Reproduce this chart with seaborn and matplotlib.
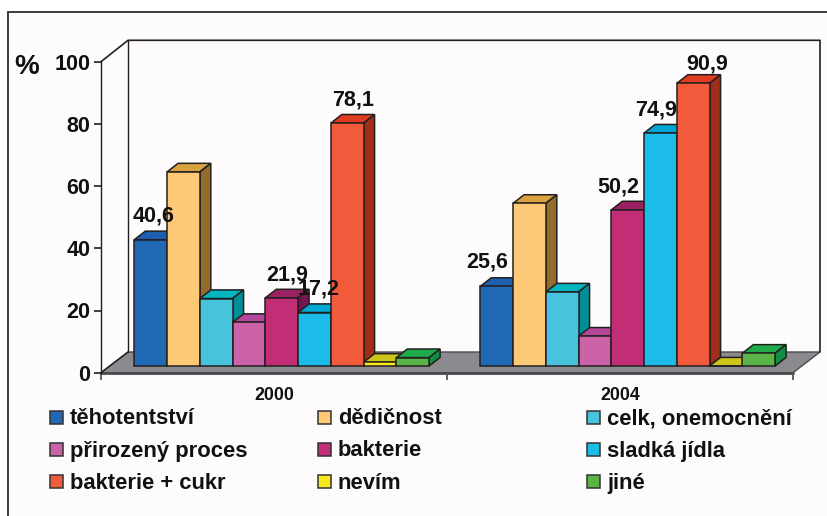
import matplotlib
matplotlib.use('Agg')
import matplotlib.pyplot as plt
from matplotlib.patches import Polygon, Rectangle
import pandas as pd
import seaborn as sns

years = ['2000', '2004']
causes = ['těhotentství', 'dědičnost', 'celk, onemocnění', 'přirozený proces', 'bakterie',
          'sladká jídla', 'bakterie + cukr', 'nevím', 'jiné']
values_2000 = [40.6, 62.4, 21.7, 14.0, 21.9, 17.2, 78.1, 1.2, 2.7]
values_2004 = [25.6, 52.3, 23.8, 9.6, 50.2, 74.9, 90.9, 0.0, 4.1]
front_colors = ['#2069B4', '#FDC976', '#47C3DE', '#CC62A7', '#C22E75', '#1BBCE8', '#F15A3A', '#F7E91E', '#5BB546']
top_colors = ['#1F5FB0', '#D9A23E', '#00B5BE', '#B5479B', '#9B2163', '#00A7D4', '#E03C22', '#CFC51A', '#1FAB4A']
side_colors = ['#1A4F8F', '#946D2C', '#008E96', '#8A3576', '#751650', '#0082A8', '#A02C1A', '#9E9612', '#0E8F44']
# only these bars have a number, with pixel shift of the label
labels_2000 = {'těhotentství': (3, 13), 'bakterie': (5, 12), 'sladká jídla': (4, 13), 'bakterie + cukr': (6, 13)}
labels_2004 = {'těhotentství': (-9, 14), 'bakterie': (-9, 12), 'sladká jídla': (-4, 13), 'bakterie + cukr': (14, 9)}

W, H = 828, 516
DARK = '#231F20'
BG = '#FDFBFB'
sns.set_style('white')
plt.rcParams['font.family'] = ['Liberation Sans', 'DejaVu Sans']
plt.rcParams['font.weight'] = 'bold'


def axes_px(fig, left, top, right, bottom):
    return fig.add_axes([left / W, 1 - bottom / H, (right - left) / W, (bottom - top) / H])


fig = plt.figure(figsize=(W / 100, H / 100), dpi=100, facecolor='white')

# pixel layer for frame, walls, floor and legend
bg = fig.add_axes([0, 0, 1, 1], zorder=0)
bg.set_xlim(0, W)
bg.set_ylim(H, 0)
bg.axis('off')
bg.add_patch(Rectangle((8.5, 11.7), W, H, fc=BG, ec='#3A3A3A', lw=1.4))
bg.add_patch(Polygon([(101, 372.7), (793, 372.7), (820, 352), (128, 352)], fc='#8B8A8E', ec='#4A494C', lw=1))
bg.plot([101, 793], [372.7, 372.7], color='#4A494C', lw=2)
bg.plot([101, 128, 820, 820], [61.7, 40.3, 40.3, 352], color=DARK, lw=1.2)
bg.plot([128, 128], [40.3, 352], color=DARK, lw=1.0)
bg.plot([101, 128], [372.7, 352], color=DARK, lw=1.0)

# front plane holds the axis and ticks
ax = axes_px(fig, 101, 61.7, 793, 372.7)
ax.set_zorder(1)
ax.patch.set_alpha(0)
ax.set_xlim(-0.5, 1.5)
ax.set_ylim(0, 100)
for s in ['top', 'right', 'bottom']:
    ax.spines[s].set_visible(False)
ax.spines['left'].set_color(DARK)
ax.spines['left'].set_linewidth(1.0)
ax.set_yticks(range(0, 101, 20))
ax.tick_params(axis='y', left=True, length=5, width=1.2, color=DARK, pad=2.5, labelsize=15.5, labelcolor='#111111')
ax.set_xticks([-0.5, 0.5, 1.5])
ax.set_xticklabels([])
ax.tick_params(axis='x', bottom=True, length=5, width=1.2, color='#4A494C')
ax.set_xticks([0, 1], minor=True)
ax.set_xticklabels(years, minor=True)
ax.tick_params(axis='x', which='minor', bottom=False, pad=8, labelsize=12.8, labelcolor='#111111')
bg.text(27, 67, '%', fontsize=20, ha='center', va='center', color='#111111')

# bars stand further back on the floor
df = pd.DataFrame({
    'year': [y for y in years for c in causes],
    'cause': causes * 2,
    'value': values_2000 + values_2004,
})
bars = axes_px(fig, 108.7, 55, 800.7, 366)
bars.set_zorder(2)
bars.patch.set_alpha(0)
sns.barplot(data=df, x='year', y='value', hue='cause', hue_order=causes, order=years, palette=front_colors,
            width=0.852, gap=0, saturation=1, legend=False, edgecolor=DARK, linewidth=1.1, ax=bars)
bars.set_xlim(-0.5, 1.5)
bars.set_ylim(0, 100)
bars.axis('off')

dx = 11 / 346
dy = 8.6 / 3.11
for i, cont in enumerate(bars.containers):
    for j, p in enumerate(cont.patches):
        x0, w, h = p.get_x(), p.get_width(), p.get_height()
        x1 = x0 + w
        z = 3 + 3 * (j * len(causes) + i)
        p.set_zorder(z + 2)
        p.set_clip_on(False)
        bars.add_patch(Polygon([(x0, h), (x1, h), (x1 + dx, h + dy), (x0 + dx, h + dy)], fc=top_colors[i],
                               ec=DARK, lw=1.1, zorder=z, clip_on=False))
        bars.add_patch(Polygon([(x1, 0), (x1 + dx, dy), (x1 + dx, h + dy), (x1, h)], fc=side_colors[i],
                               ec=DARK, lw=1.1, zorder=z + 1, clip_on=False))
        shifts = [labels_2000, labels_2004][j]
        if causes[i] in shifts:
            text = f'{h:.1f}'.replace('.', ',')
            bars.annotate(text, (x0 + w / 2, h), xytext=shifts[causes[i]], textcoords='offset pixels', ha='center',
                          va='bottom', fontsize=15.5, color='#111111', zorder=500, annotation_clip=False)

# legend, column by column
legend_x = [50, 318, 587]
legend_y = [417, 449, 481.5]
for i, cause in enumerate(causes):
    x, y = legend_x[i % 3], legend_y[i // 3]
    bg.add_patch(Rectangle((x, y - 6.5), 13, 13, fc=front_colors[i], ec='#333333', lw=1.1))
    bg.text(x + 20, y + 7.5, cause, fontsize=15.8, va='baseline', ha='left', color='#111111')

fig.savefig('out.png', dpi=100)
